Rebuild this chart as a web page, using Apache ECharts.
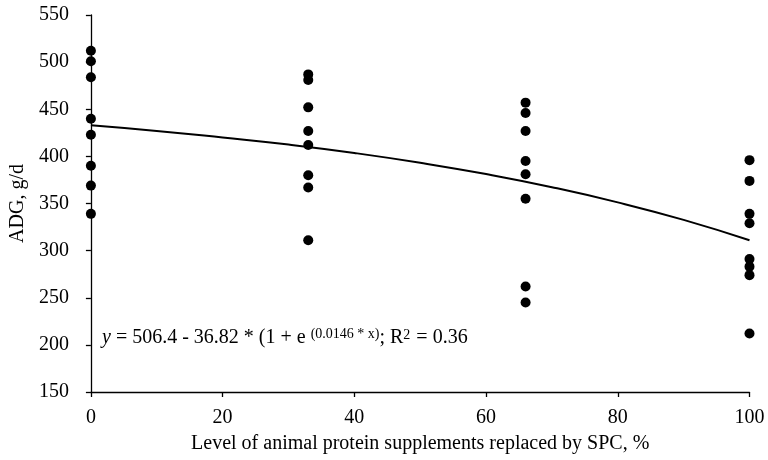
<!DOCTYPE html>
<html>
<head>
<meta charset="utf-8">
<script src="https://cdn.jsdelivr.net/npm/echarts@6/dist/echarts.min.js"></script>
<style>html,body{margin:0;padding:0;background:#fff}#c{width:768px;height:460px}</style>
</head>
<body>
<div id="c"></div>
<script>
var levels = [0, 33, 66, 100];
var adg0 = [512, 501, 484, 440, 423, 390, 369, 339];
var adg33 = [487, 481, 452, 427, 412, 380, 367, 311];
var adg66 = [457, 446, 427, 395, 381, 355, 262, 245];
var adg100 = [396, 374, 339, 329, 291, 283, 274, 212];
// Fitted curve values
var curveX = [0, 10, 20, 30, 40, 50, 60, 70, 80, 90, 100];
var curveY = [433, 427, 420, 412.5, 403.6, 393.2, 381.2, 367.3, 351.2, 332.6, 311];
var yTicks = [150, 200, 250, 300, 350, 400, 450, 500, 550];
var xTicks = [0, 20, 40, 60, 80, 100];

var groups = [adg0, adg33, adg66, adg100];
var scatterData = [];
groups.forEach(function (g, i) {
  g.forEach(function (v) { scatterData.push([levels[i], v]); });
});
var lineData = curveX.map(function (x, i) { return [x, curveY[i]]; });

var font = 'Liberation Serif';
var chart = echarts.init(document.getElementById('c'), null, {renderer: 'canvas'});
chart.setOption({
  animation: false,
  backgroundColor: '#fff',
  grid: {left: 83.5, right: 18.5, top: 15, bottom: 68, containLabel: false},
  xAxis: {
    type: 'value', min: xTicks[0], max: xTicks[xTicks.length - 1], interval: 20,
    name: 'Level of animal protein supplements replaced by SPC, %',
    nameLocation: 'middle', nameGap: 42,
    nameTextStyle: {fontFamily: font, fontSize: 20, color: '#000'},
    axisLine: {show: true, onZero: false, lineStyle: {color: '#000', width: 1.3}},
    axisTick: {show: true, inside: false, length: 5, lineStyle: {color: '#000', width: 1.3}},
    axisLabel: {fontFamily: font, fontSize: 20, color: '#000', margin: 16},
    splitLine: {show: false}
  },
  yAxis: {
    type: 'value', min: yTicks[0], max: yTicks[yTicks.length - 1], interval: 50,
    name: 'ADG, g/d', nameLocation: 'middle', nameGap: 60,
    nameTextStyle: {fontFamily: font, fontSize: 20, color: '#000'},
    axisLine: {show: true, lineStyle: {color: '#000', width: 1.3}},
    axisTick: {show: true, inside: false, length: 5, lineStyle: {color: '#000', width: 1.3}},
    axisLabel: {fontFamily: font, fontSize: 20, color: '#000', margin: 22},
    splitLine: {show: false}
  },
  series: [
    {type: 'line', data: lineData, smooth: true, symbol: 'none',
     lineStyle: {color: '#000', width: 2}, z: 2},
    {type: 'scatter', data: scatterData, symbol: 'circle', symbolSize: 10,
     itemStyle: {color: '#000', opacity: 1}, z: 3}
  ],
  graphic: [{
    type: 'text', left: 102, top: 327,
    style: {
      text: '{i|y} = 506.4 - 36.82 * (1 + e {s|(0.0146 * x)}; R{s2|2} = 0.36',
      fontFamily: font, fontSize: 20, fill: '#000',
      rich: {
        i: {fontFamily: font, fontSize: 20, fontStyle: 'italic', fill: '#000'},
        s: {fontFamily: font, fontSize: 14, fill: '#000', verticalAlign: 'bottom', padding: [0, 0, 8, 0]},
        s2: {fontFamily: font, fontSize: 14, fill: '#000', verticalAlign: 'bottom', padding: [0, 1, 7, 0]}
      }
    }
  }]
});
</script>
</body>
</html>
